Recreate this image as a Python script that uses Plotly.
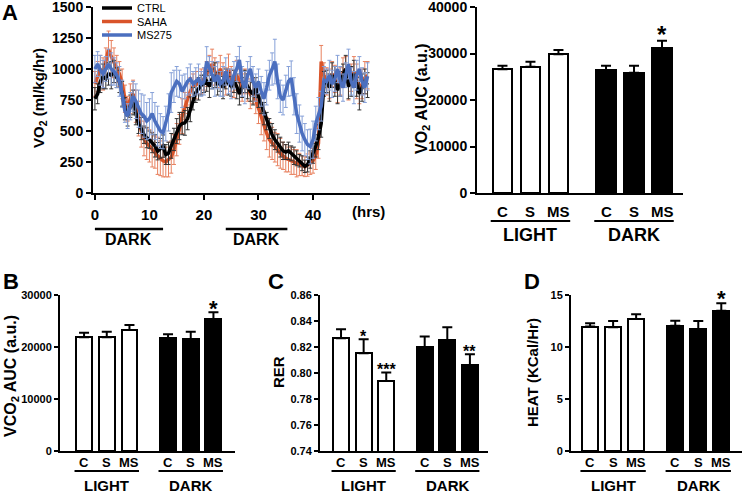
import plotly.graph_objects as go

W, H = 743, 494

# ---- panel A: VO2 time course (one point every 0.5 h) ----
HOURS = [i * 0.5 for i in range(101)]

CTRL = [760, 800, 900, 940, 920, 960, 950, 980, 930, 900,
        800, 680, 620, 700, 730, 640, 560, 520, 470, 445,
        430, 405, 380, 337, 360, 378, 310, 320, 380, 432,
        500, 540, 560, 566, 600, 675, 760, 810, 840, 870,
        880, 900, 860, 920, 950, 880, 900, 850, 920, 880,
        860, 900, 860, 800, 850, 900, 860, 820, 800, 850,
        780, 720, 640, 580, 520, 470, 430, 400, 370, 340,
        330, 340, 320, 300, 280, 260, 240, 215, 230, 270,
        320, 380, 450, 560, 880, 900, 850, 950, 900, 830,
        880, 950, 1000, 860, 900, 960, 880, 800, 850, 900,
        870]
CTRL_ERR = [90, 80, 90, 100, 80, 90, 110, 90, 80, 90,
            100, 90, 80, 90, 100, 90, 80, 90, 70, 80,
            70, 80, 90, 70, 80, 90, 80, 90, 100, 90,
            100, 110, 90, 100, 90, 100, 90, 80, 90, 80,
            70, 80, 90, 80, 100, 90, 80, 90, 80, 90,
            80, 90, 100, 90, 80, 90, 100, 80, 90, 80,
            90, 80, 90, 70, 80, 90, 80, 70, 80, 70,
            60, 70, 60, 70, 60, 50, 60, 50, 60, 70,
            80, 90, 100, 110, 100, 90, 110, 100, 120, 110,
            100, 90, 110, 100, 120, 110, 100, 130, 110, 100,
            100]

SAHA = [880, 940, 1000, 960, 1050, 1156, 1100, 1050, 1000, 960,
        880, 760, 680, 760, 800, 700, 600, 500, 440, 400,
        380, 350, 330, 300, 280, 260, 250, 270, 290, 350,
        430, 513, 620, 700, 760, 820, 860, 870, 890, 900,
        920, 960, 1000, 1040, 980, 950, 1000, 950, 900, 1000,
        920, 880, 950, 900, 850, 900, 850, 800, 820, 750,
        680, 600, 540, 480, 430, 400, 370, 350, 320, 300,
        280, 270, 260, 250, 240, 230, 220, 212, 225, 240,
        260, 300, 400, 1060, 950, 900, 880, 960, 920, 850,
        900, 970, 1000, 880, 930, 980, 900, 830, 880, 930,
        950]
SAHA_ERR = [100, 120, 110, 130, 120, 150, 130, 120, 110, 100,
            120, 110, 100, 120, 110, 130, 140, 130, 140, 130,
            130, 140, 130, 150, 140, 130, 120, 140, 130, 120,
            130, 120, 140, 110, 120, 110, 100, 110, 90, 100,
            90, 100, 110, 120, 110, 100, 110, 100, 110, 120,
            100, 110, 120, 100, 110, 100, 110, 120, 100, 110,
            120, 130, 120, 130, 140, 130, 120, 130, 120, 110,
            110, 100, 110, 100, 110, 90, 80, 80, 90, 90,
            100, 110, 120, 130, 100, 110, 120, 100, 110, 120,
            110, 120, 100, 130, 110, 120, 140, 110, 120, 130,
            110]

MS275 = [1000, 1040, 990, 960, 1000, 1040, 1000, 980, 950, 900,
         800, 660, 620, 700, 780, 740, 680, 640, 620, 580,
         600, 640, 580, 540, 500, 486, 560, 650, 810, 860,
         900, 880, 820, 860, 900, 920, 880, 900, 920, 880,
         900, 1060, 1000, 950, 900, 950, 880, 900, 980, 900,
         880, 950, 1000, 1072, 900, 850, 950, 1000, 900, 850,
         900, 820, 760, 850, 950, 1000, 1060, 900, 780, 750,
         820, 900, 925, 780, 640, 560, 480, 430, 390, 375,
         430, 560, 640, 700, 910, 900, 950, 880, 920, 1000,
         900, 850, 950, 1040, 900, 850, 950, 1000, 900, 850,
         940]
MS275_ERR = [110, 100, 120, 110, 100, 120, 130, 110, 100, 120,
             110, 90, 100, 110, 120, 140, 150, 160, 170, 150,
             160, 170, 150, 160, 140, 130, 140, 150, 160, 130,
             120, 110, 130, 100, 110, 120, 100, 110, 120, 100,
             110, 120, 100, 110, 120, 110, 100, 120, 110, 100,
             120, 110, 100, 110, 120, 130, 110, 100, 120, 110,
             100, 120, 130, 140, 120, 130, 180, 140, 130, 120,
             130, 120, 140, 150, 160, 150, 140, 130, 120, 140,
             150, 140, 130, 120, 110, 100, 120, 110, 100, 110,
             120, 110, 100, 120, 110, 130, 120, 100, 110, 120,
             110]

# ---- bar panels: order LIGHT C, S, MS then DARK C, S, MS ----
BAR_LABELS = ["C", "S", "MS", "C", "S", "MS"]
PERIODS = ["LIGHT", "DARK"]

VO2_AUC = [26600, 27170, 29830, 26450, 25870, 31110]
VO2_AUC_SEM = [780, 1070, 920, 930, 1510, 1650]
VO2_STARS = ["", "", "", "", "", "*"]

VCO2_AUC = [21870, 21870, 23270, 21670, 21480, 25330]
VCO2_AUC_SEM = [880, 1080, 960, 770, 1470, 1340]
VCO2_STARS = ["", "", "", "", "", "*"]

RER = [0.8267, 0.8151, 0.7938, 0.8197, 0.8254, 0.8062]
RER_SEM = [0.0069, 0.0108, 0.0065, 0.0083, 0.0097, 0.0082]
RER_STARS = ["", "*", "***", "", "", "**"]

HEAT = [11.96, 11.90, 12.69, 12.05, 11.70, 13.49]
HEAT_SEM = [0.32, 0.60, 0.45, 0.48, 0.80, 0.71]
HEAT_STARS = ["", "", "", "", "", "*"]

POS = [0, 1, 2, 3.7, 4.7, 5.7]
FILL = ["white", "white", "white", "black", "black", "black"]
FONT = "Liberation Sans"


def px(x):
    return x / W


def py(y):
    return 1 - y / H


def bold(size):
    return dict(family=FONT, size=size, color="black", weight="bold")


fig = go.Figure()

# time course traces (orange under black under blue), one legend box each
series = [
    ("SAHA", SAHA, SAHA_ERR, "#d9542a", "#e8815f", "legend2"),
    ("CTRL", CTRL, CTRL_ERR, "black", "#333333", "legend"),
    ("MS275", MS275, MS275_ERR, "#4b6fbf", "#86a0d8", "legend3"),
]
for name, vals, err, col, ecol, leg in series:
    fig.add_trace(go.Scatter(
        x=HOURS, y=vals, name=name, mode="lines", legend=leg,
        line=dict(color=col, width=3.5),
        error_y=dict(type="data", array=err, color=ecol, thickness=1, width=2),
        xaxis="x", yaxis="y",
    ))

annotations = []
shapes = []


def note(x, y, text, font, xref="paper", yref="paper", **kw):
    annotations.append(dict(x=x, y=y, xref=xref, yref=yref, text=text, showarrow=False,
                            xanchor=kw.pop("xanchor", "center"),
                            yanchor=kw.pop("yanchor", "middle"), font=font, **kw))


def bar_panel(n, means, sems, stars, star_size, star_off, label_y, line_y, period_y,
              cat_size, period_size):
    fig.add_trace(go.Bar(
        x=POS, y=means, width=0.7, showlegend=False,
        marker=dict(color=FILL, line=dict(color="black", width=2)),
        error_y=dict(type="data", array=sems, arrayminus=[0] * 6,
                     symmetric=False, color="black", thickness=2, width=5),
        xaxis=f"x{n}", yaxis=f"y{n}",
    ))
    for i, s in enumerate(stars):
        if s:
            note(POS[i], means[i] + sems[i], s, bold(star_size), f"x{n}", f"y{n}",
                 yshift=star_off)
    for i, lab in enumerate(BAR_LABELS):
        note(POS[i], py(label_y), lab, bold(cat_size), f"x{n}")
    for g, per in enumerate(PERIODS):
        a, b = POS[3 * g], POS[3 * g + 2]
        shapes.append(dict(type="line", xref=f"x{n}", yref="paper",
                           x0=a - 0.42, x1=b + 0.42, y0=py(line_y), y1=py(line_y),
                           line=dict(color="black", width=2)))
        note((a + b) / 2, py(period_y), per, bold(period_size), f"x{n}")


bar_panel(2, VO2_AUC, VO2_AUC_SEM, VO2_STARS, 24, 6, 211, 221, 235, 15, 18)
bar_panel(3, VCO2_AUC, VCO2_AUC_SEM, VCO2_STARS, 22, 4, 462, 471, 485, 13, 15)
bar_panel(4, RER, RER_SEM, RER_STARS, 16, 3, 462, 471, 485, 13, 15)
bar_panel(5, HEAT, HEAT_SEM, HEAT_STARS, 22, 5, 462, 471, 485, 13, 15)

# DARK bars under the time course
for a, b in [(0, 12.5), (24, 35.3)]:
    shapes.append(dict(type="line", xref="x", yref="paper", x0=a, x1=b,
                       y0=py(229), y1=py(229), line=dict(color="black", width=2.5)))
    note((a + b) / 2, py(240), "DARK", bold(16), "x")

note(px(368), py(211), "(hrs)", bold(15))

# axis titles
for text, x, y, size in [
    ("VO<sub>2</sub> (ml/kg/hr)", 40, 98, 15),
    ("VO<sub>2</sub> AUC (a.u.)", 422, 99, 16),
    ("VCO<sub>2</sub> AUC (a.u.)", 11, 376, 16),
    ("RER", 278, 372, 15),
    ("HEAT (KCal/Hr)", 532, 373, 15),
]:
    note(px(x), py(y), text, bold(size), textangle=-90)

# panel letters
for text, x, y in [("A", 10, 12), ("B", 11, 281), ("C", 276, 281), ("D", 532, 281)]:
    note(px(x), py(y), text, bold(22))

axis_common = dict(showline=True, linecolor="black", linewidth=2, ticks="outside",
                   tickcolor="black", tickwidth=2, ticklen=5, showgrid=False,
                   zeroline=False, fixedrange=True, ticklabeloverflow="allow")


def bar_x(dom, rng, y):
    return dict(axis_common, domain=dom, range=rng, anchor=y,
                tickvals=POS, ticks="", showticklabels=False)


def bar_y(dom, rng, vals, x, size, **kw):
    return dict(axis_common, domain=dom, range=rng, tickvals=vals, anchor=x,
                tickfont=bold(size), **kw)


legend_common = dict(xanchor="left", yanchor="middle", bgcolor="rgba(0,0,0,0)",
                     itemwidth=30, font=dict(family=FONT, size=11, color="black"))

fig.update_layout(
    width=W, height=H,
    margin=dict(l=0, r=0, t=0, b=0, autoexpand=False),
    paper_bgcolor="white", plot_bgcolor="white",
    showlegend=True,
    legend=dict(legend_common, x=px(97), y=py(8)),
    legend2=dict(legend_common, x=px(97), y=py(21.5)),
    legend3=dict(legend_common, x=px(97), y=py(35)),
    xaxis=dict(axis_common, domain=[px(93), px(370)], range=[-0.35, 50.45],
               tickvals=[0, 10, 20, 30, 40], anchor="y", ticklabelstandoff=2,
               tickfont=bold(15)),
    yaxis=bar_y([py(193), py(7)], [0, 1500], [0, 250, 500, 750, 1000, 1250, 1500], "x", 14),
    xaxis2=bar_x([px(477), px(683)], [-0.91, 6.45], "y2"),
    yaxis2=bar_y([py(193), py(7)], [0, 40000], [0, 10000, 20000, 30000, 40000], "x2", 14,
                 tickformat="d"),
    xaxis3=bar_x([px(60), px(235)], [-1.06, 6.65], "y3"),
    yaxis3=bar_y([py(451), py(295)], [0, 30000], [0, 10000, 20000, 30000], "x3", 11,
                 tickformat="d", ticklen=4),
    xaxis4=bar_x([px(320), px(488)], [-0.93, 6.5], "y4"),
    yaxis4=bar_y([py(451), py(295)], [0.74, 0.86],
                 [0.74, 0.76, 0.78, 0.80, 0.82, 0.84, 0.86], "x4", 11,
                 tickformat=".2f", ticklen=4),
    xaxis5=bar_x([px(571), px(742)], [-0.83, 6.6], "y5"),
    yaxis5=bar_y([py(451), py(295)], [0, 15], [0, 5, 10, 15], "x5", 11, ticklen=4),
    annotations=annotations,
    shapes=shapes,
    bargap=0,
)

# the page body has a default 8px margin; drop it so the figure fills the window
fig.write_html("out.html", config={"displayModeBar": False},
               post_script="document.body.style.margin = '0px';")
